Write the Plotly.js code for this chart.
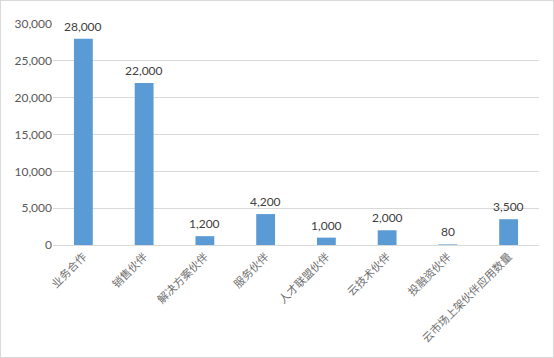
<!DOCTYPE html>
<html>
<head>
<meta charset="utf-8">
<script src="https://cdn.plot.ly/plotly-3.0.1.min.js"></script>
<style>
html,body{margin:0;padding:0;background:#fff;}
#chart{width:554px;height:358px;border:1px solid #d9d9d9;box-sizing:border-box;}
</style>
</head>
<body>
<div id="chart"></div>
<script>
const categories = ["业务合作","销售伙伴","解决方案伙伴","服务伙伴","人才联盟伙伴","云技术伙伴","投融资伙伴","云市场上架伙伴应用数量"];
const values = [28000, 22000, 1200, 4200, 1000, 2000, 80, 3500];
const yTicks = [0, 5000, 10000, 15000, 20000, 25000, 30000];

const trace = {
  type: 'bar',
  x: categories,
  y: values,
  marker: {color: '#5B9BD5'},
  width: 0.31,
  hoverinfo: 'none'
};

const annotations = categories.map((c, i) => ({
  x: c, y: values[i], xref: 'x', yref: 'y',
  text: values[i].toLocaleString('en-US'),
  showarrow: false, yanchor: 'bottom', yshift: 3,
  font: {family: 'Lato, "Open Sans", sans-serif', size: 12, color: '#404040'}
}));

const layout = {
  width: 552, height: 356,
  margin: {l: 52, r: 14, t: 23, b: 112},
  paper_bgcolor: '#fff', plot_bgcolor: '#fff',
  showlegend: false,
  annotations: annotations,
  xaxis: {
    type: 'category',
    tickangle: -45,
    tickfont: {family: '"Noto Sans CJK SC", sans-serif', size: 11, color: '#6f6f6f'},
    showline: true, linecolor: '#d9d9d9', linewidth: 1,
    ticks: '', showgrid: false, automargin: false
  },
  yaxis: {
    range: [0, 30000],
    tickvals: yTicks,
    ticktext: yTicks.map(v => v.toLocaleString('en-US')),
    tickfont: {family: 'Lato, "Open Sans", sans-serif', size: 12, color: '#595959'},
    gridcolor: '#d9d9d9', gridwidth: 1,
    zeroline: false, showline: false, ticks: '', automargin: false
  }
};

Plotly.newPlot('chart', [trace], layout, {displayModeBar: false, staticPlot: true});
</script>
</body>
</html>
